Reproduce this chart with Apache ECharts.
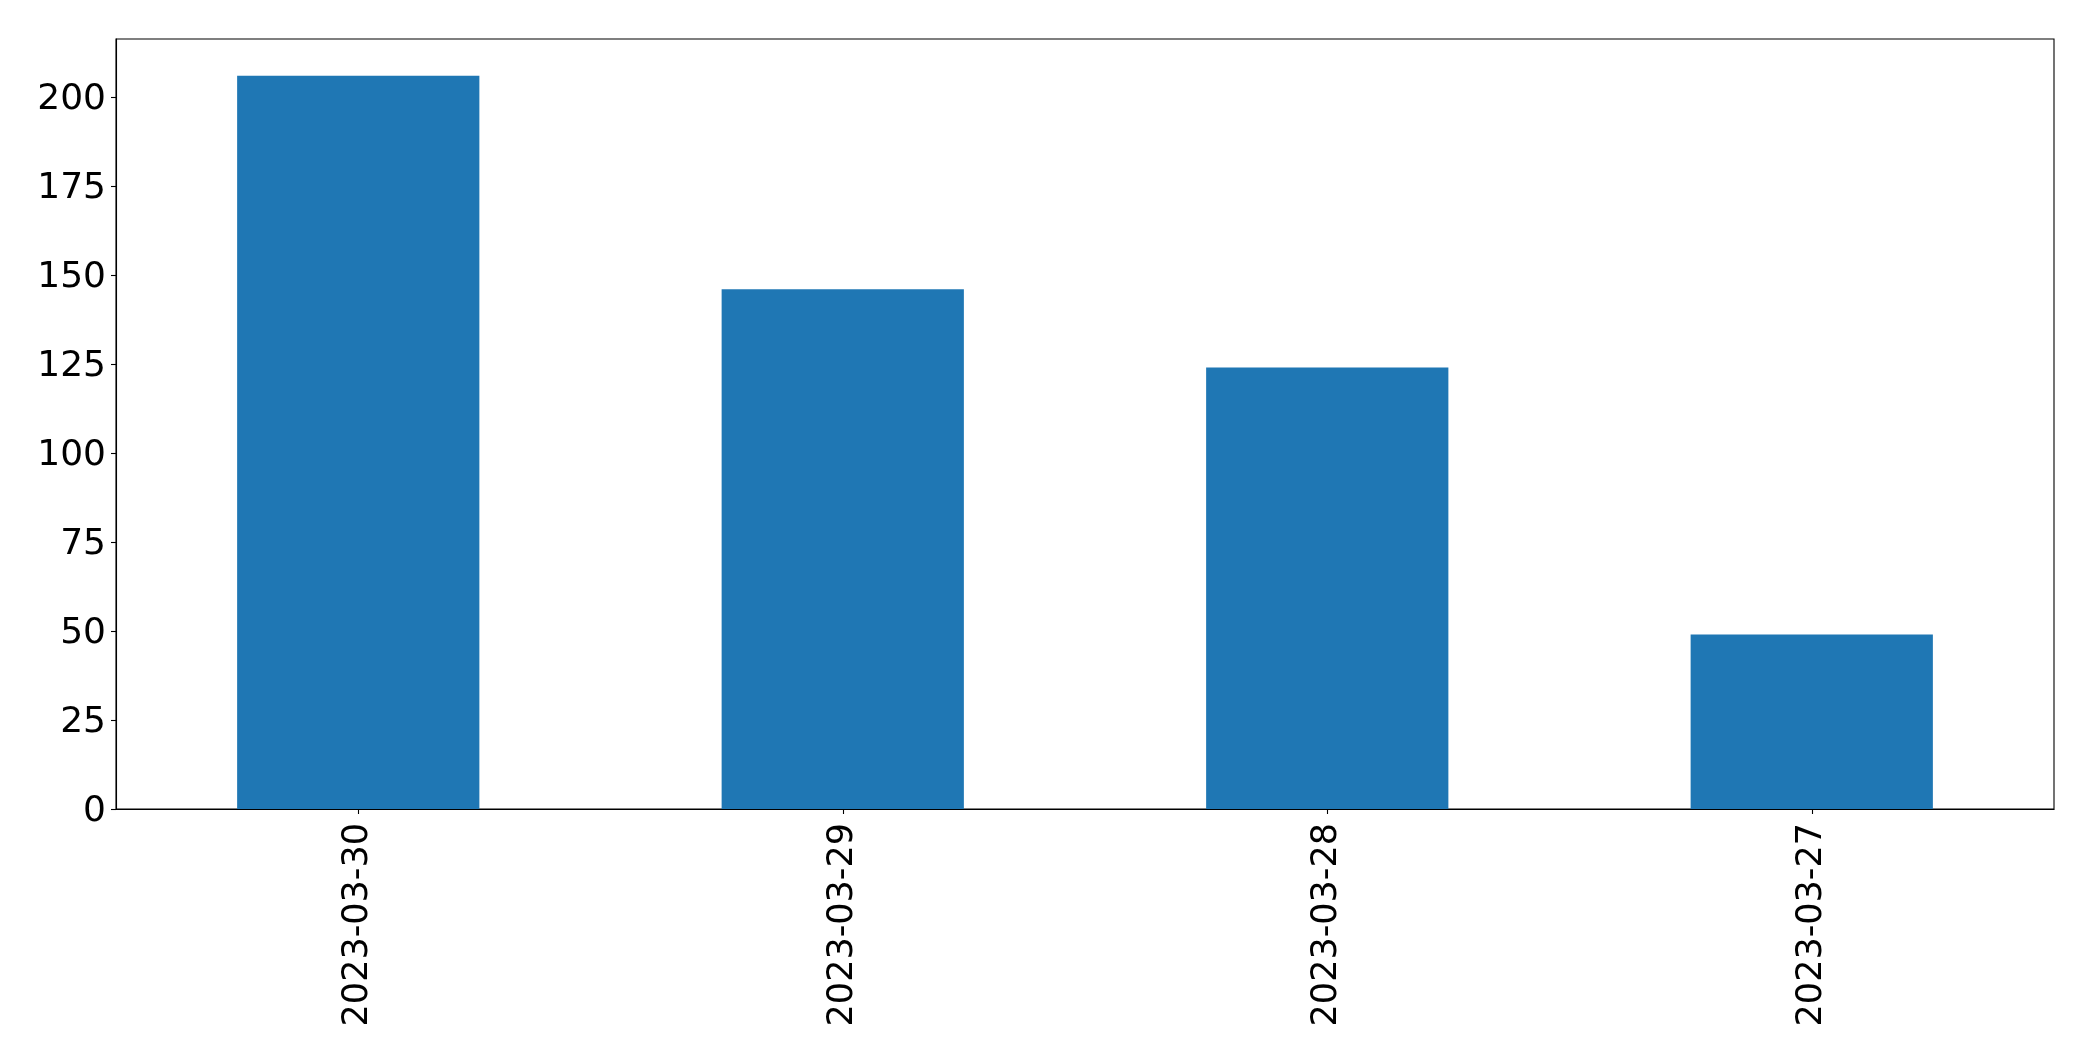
<!DOCTYPE html>
<html>
<head>
<meta charset="utf-8">
<script src="https://cdn.jsdelivr.net/npm/echarts@6/dist/echarts.min.js"></script>
<style>
html,body{margin:0;padding:0;background:#fff;}
#chart{width:2093px;height:1061px;}
</style>
</head>
<body>
<div id="chart"></div>
<script>
const categories = ['2023-03-30', '2023-03-29', '2023-03-28', '2023-03-27'];
const values = [206, 146, 124, 49];
const yTicks = [0, 25, 50, 75, 100, 125, 150, 175, 200];
const yMax = 216.3;

const chart = echarts.init(document.getElementById('chart'), null, {renderer: 'canvas'});
const font = 'DejaVu Sans';
chart.setOption({
  animation: false,
  backgroundColor: '#ffffff',
  grid: {
    left: 116, right: 39, top: 39, bottom: 252,
    show: true, borderColor: '#000', borderWidth: 1.1, backgroundColor: 'transparent'
  },
  xAxis: {
    type: 'category',
    data: categories,
    boundaryGap: true,
    axisLine: {show: true, lineStyle: {color: '#000', width: 1.1}},
    axisTick: {show: true, alignWithLabel: true, length: 5, lineStyle: {color: '#000', width: 1.1}},
    axisLabel: {rotate: 90, margin: 14, color: '#000', fontFamily: font, fontSize: 35},
    splitLine: {show: false}
  },
  yAxis: {
    type: 'value',
    min: 0, max: yMax, interval: 25,
    axisLine: {show: true, lineStyle: {color: '#000', width: 1.1}},
    axisTick: {show: true, length: 5, lineStyle: {color: '#000', width: 1.1}, customValues: yTicks},
    axisLabel: {
      margin: 10, color: '#000', fontFamily: font, fontSize: 36, customValues: yTicks,
      formatter: '{a|{value}}',
      rich: {a: {fontFamily: font, fontSize: 36, color: '#000', padding: [6, 0, 0, 0]}}
    },
    splitLine: {show: false}
  },
  series: [{
    type: 'bar',
    data: values,
    barWidth: '50%',
    itemStyle: {color: '#1f77b4'}
  }]
});
</script>
</body>
</html>
